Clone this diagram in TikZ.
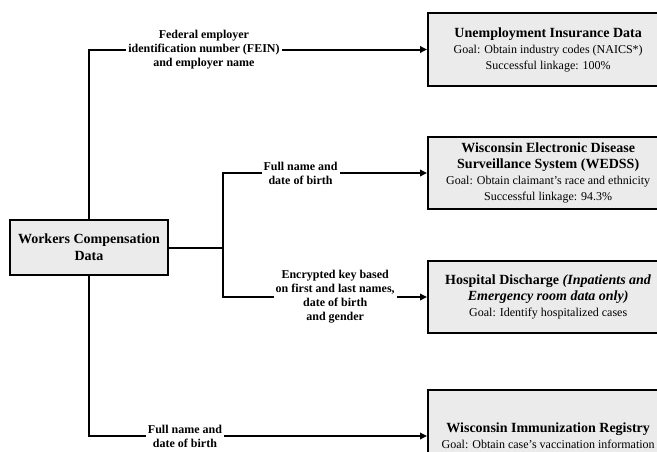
\documentclass[tikz,border=0pt]{standalone}
\usepackage{fontspec}
\setmainfont{Liberation Serif}
\usetikzlibrary{arrows.meta}
\begin{document}
\begin{tikzpicture}[x=1pt,y=-1pt,
    databox/.style={draw, line width=2.4pt, fill=black!8, align=center, inner sep=2pt,
      font=\fontsize{12}{16}\selectfont},
    srcbox/.style={databox, minimum width=240pt, anchor=west},
    link/.style={line width=2pt},
    feed/.style={link, -{Triangle[length=7pt,width=6.5pt]}},
    lbl/.style={fill=white, font=\fontsize{12}{14}\selectfont\bfseries, align=center,
      inner xsep=2pt, inner ysep=1pt}]
  \useasboundingbox (0,0) rectangle (657,451);
  \clip (0,0) rectangle (657,451);
  % source
  \node[databox, minimum width=158pt, minimum height=55pt,
    font=\fontsize{14}{17}\selectfont\bfseries] (wc) at (89,247.5) {Workers Compensation\\Data};
  % linked data sets
  \node[srcbox, minimum height=73pt] (ui) at (427,49.5)
    {{\fontsize{14}{16}\selectfont\bfseries Unemployment Insurance Data}\\
     Goal: Obtain industry codes (NAICS*)\\ Successful linkage: 100\%};
  \node[srcbox, minimum height=72pt] (wedss) at (427,173)
    {{\fontsize{14}{16}\selectfont\bfseries Wisconsin Electronic Disease}\\
     {\fontsize{14}{16}\selectfont\bfseries Surveillance System (WEDSS)}\\
     Goal: Obtain claimant's race and ethnicity\\ Successful linkage: 94.3\%};
  \node[srcbox, minimum height=72pt] (hd) at (427,297)
    {{\fontsize{14}{16}\selectfont\bfseries Hospital Discharge \textit{(Inpatients and}}\\
     {\fontsize{14}{16}\selectfont\bfseries\itshape Emergency room data only)}\\
     Goal: Identify hospitalized cases};
  \node[srcbox, minimum height=92pt] (wir) at (427,436)
    {{\fontsize{14}{16}\selectfont\bfseries Wisconsin Immunization Registry}\\
     Goal: Obtain case's vaccination information};
  % connectors
  \coordinate (fork) at (223,247.5);
  \draw[link] (wc.east) -- (fork);
  \draw[feed] (wc.north) |- node[lbl, pos=0.67]
    {Federal employer\\identification number (FEIN)\\and employer name} (ui.west);
  \draw[feed] (fork) |- node[lbl, pos=0.69] {Full name and\\date of birth} (wedss.west);
  \draw[feed] (fork) |- node[lbl, pos=0.775]
    {Encrypted key based\\on first and last names,\\date of birth\\and gender} (hd.west);
  \draw[feed] (wc.south) |- node[lbl, pos=0.642] {Full name and\\date of birth} (wir.west);
\end{tikzpicture}
\end{document}
